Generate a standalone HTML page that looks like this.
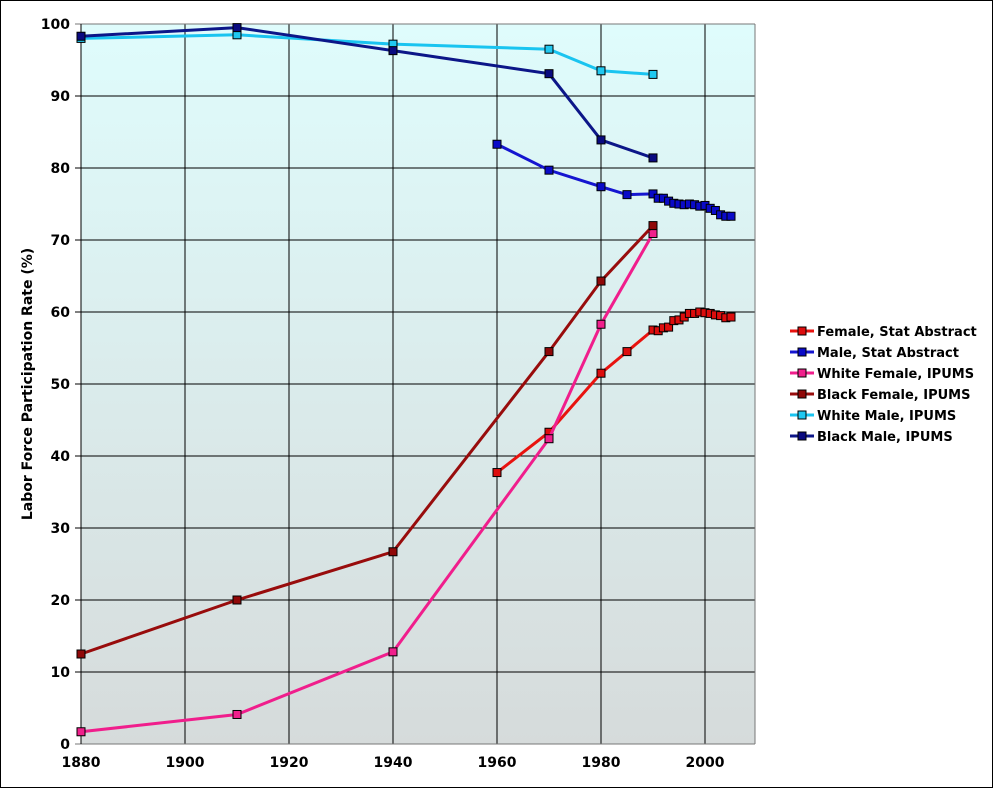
<!DOCTYPE html>
<html><head><meta charset="utf-8"><style>
body{margin:0;background:#fff}
svg{display:block;font-family:"DejaVu Sans","Liberation Sans",sans-serif}
</style></head><body>
<svg id="c" width="993" height="788" xmlns="http://www.w3.org/2000/svg">
<defs><linearGradient id="bg" x1="0" y1="0" x2="0" y2="1"><stop offset="0" stop-color="#dffcfc"/><stop offset="1" stop-color="#d6dbdb"/></linearGradient></defs>
<rect x="0.5" y="0.5" width="992" height="787" fill="#fff" stroke="#000"/>
<rect x="81" y="24" width="674" height="720" fill="url(#bg)"/>
<g id="grid"></g><g id="series"></g><g id="legend"></g>
<text transform="translate(32,384) rotate(-90)" text-anchor="middle" font-size="14" font-weight="bold">Labor Force Participation Rate (%)</text>
</svg>
<script>
const xTicks=[1880,1900,1920,1940,1960,1980,2000];
const yTicks=[0,10,20,30,40,50,60,70,80,90,100];
const saYears=[1960,1970,1980,1985,1990,1991,1992,1993,1994,1995,1996,1997,1998,1999,2000,2001,2002,2003,2004,2005];
const femaleSA=[37.7,43.3,51.5,54.5,57.5,57.4,57.8,57.9,58.8,58.9,59.3,59.8,59.8,60.0,59.9,59.8,59.6,59.5,59.2,59.3];
const maleSA=[83.3,79.7,77.4,76.3,76.4,75.8,75.8,75.4,75.1,75.0,74.9,75.0,74.9,74.7,74.8,74.4,74.1,73.5,73.3,73.3];
const ipYears=[1880,1910,1940,1970,1980,1990];
const whiteFemale=[1.7,4.1,12.8,42.4,58.3,70.9];
const blackFemale=[12.5,20.0,26.7,54.5,64.3,72.0];
const whiteMale=[98.0,98.5,97.2,96.5,93.5,93.0];
const blackMale=[98.3,99.5,96.3,93.1,83.9,81.4];
const seriesNames=["Female, Stat Abstract","Male, Stat Abstract","White Female, IPUMS","Black Female, IPUMS","White Male, IPUMS","Black Male, IPUMS"];
const NS="http://www.w3.org/2000/svg";
const X=v=>81+(v-1880)*5.2, Y=v=>744-v*7.2;
function mk(t,a,p){const e=document.createElementNS(NS,t);for(const k in a)e.setAttribute(k,a[k]);p.appendChild(e);return e;}
const grid=document.getElementById('grid');
xTicks.forEach(t=>{
 if(t>1880){const l=mk('line',{x1:X(t),x2:X(t),y1:24,y2:744,stroke:'#000','stroke-width':1},grid);
 
 }
 const tx=mk('text',{x:X(t),y:767,'text-anchor':'middle','font-size':14,'font-weight':'bold'},grid);tx.textContent=t;
 
 
});
yTicks.forEach(t=>{
 const l=mk('line',{x1:75,x2:755,y1:Y(t),y2:Y(t),stroke:t==0||t==100?'#777':'#000','stroke-width':1},grid);
 
 
 const tx=mk('text',{x:70,y:Y(t)+5,'text-anchor':'end','font-size':14,'font-weight':'bold'},grid);tx.textContent=t;
 
 
});
mk('line',{x1:81,x2:81,y1:24,y2:744,stroke:'#000'},grid);
mk('line',{x1:755,x2:755,y1:24,y2:744,stroke:'#777'},grid);
const ser=document.getElementById('series');
const defs=[[saYears,femaleSA,'#e8130f','#dd0d0d'],[saYears,maleSA,'#1515d0','#0a0ac8'],[ipYears,whiteFemale,'#f01e8c','#f0208c'],[ipYears,blackFemale,'#980c0c','#900808'],[ipYears,whiteMale,'#1ac4f0','#20c8f0'],[ipYears,blackMale,'#0c1688','#0a0a80']];
defs.forEach((d,i)=>{
 const g=mk('g',{},ser);
 
 
 const pts=d[0].map((y,j)=>X(y)+','+Y(d[1][j])).join(' ');
 mk('polyline',{points:pts,fill:'none',stroke:d[2],'stroke-width':3},g);
 d[0].forEach((y,j)=>{
  const r=mk('rect',{x:X(y)-4,y:Y(d[1][j])-4,width:8,height:8,fill:d[3],stroke:'#000','stroke-width':1},g);
  
  
 });
});
const lg=document.getElementById('legend');
seriesNames.forEach((n,i)=>{
 const y=331+i*21;
 const g=mk('g',{},lg);
 
 
 mk('line',{x1:790,x2:814,y1:y,y2:y,stroke:defs[i][2],'stroke-width':3},g);
 mk('rect',{x:798,y:y-4,width:8,height:8,fill:defs[i][3],stroke:'#000'},g);
 const t=mk('text',{x:817,y:y+5,'font-size':13,'font-weight':'bold'},g);t.textContent=n;
});
</script>
</body></html>
